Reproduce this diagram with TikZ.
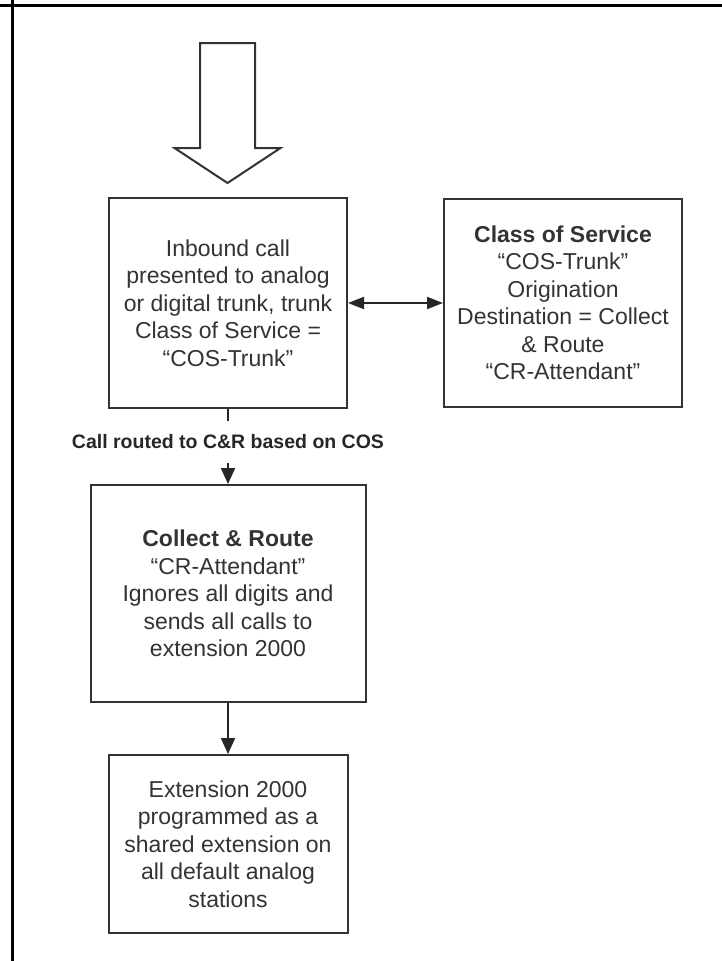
\documentclass[tikz,border=0pt]{standalone}
\usepackage{fontspec}
\setmainfont{Liberation Sans}
\usetikzlibrary{arrows.meta}
\begin{document}
\begin{tikzpicture}[x=1pt,y=1pt,
  box/.style={draw=black!80, line width=2pt, align=center, inner sep=0pt, text=black!80, font=\fontsize{23}{27.5}\selectfont},
  conn/.style={line width=2pt, draw=black!85},
  tip/.style={-{Triangle[length=16pt,width=14pt]}},
  dtip/.style={{Triangle[length=16pt,width=12pt]}-{Triangle[length=16pt,width=12pt]}},
  lbl/.style={font=\fontsize{19.5}{22}\bfseries, text=black!85, inner sep=0pt, minimum height=42pt}]
\useasboundingbox (0,0) rectangle (722,-961);
\fill[white] (0,0) rectangle (722,-961);
% frame
\draw[line width=3pt] (0,-5) -- (722,-5);
\draw[line width=3pt] (12,0) -- (12,-961);
% hollow inbound arrow
\draw[line width=2pt, draw=black!80, line join=miter, fill=white]
  (200,-43) -- (255,-43) -- (255,-148) -- (280.5,-148) -- (227.5,-183)
  -- (174.5,-148) -- (200,-148) -- cycle;
% boxes
\node[box, minimum width=238pt, minimum height=210pt] (b1) at (228,-303)
  {Inbound call\\presented to analog\\or digital trunk, trunk\\Class of Service =\\“COS-Trunk”};
\node[box, minimum width=238pt, minimum height=208pt] (b2) at (563,-303)
  {\textbf{Class of Service}\\“COS-Trunk”\\Origination\\Destination = Collect\\\& Route\\“CR-Attendant”};
\node[box, minimum width=275pt, minimum height=217pt] (b3) at (228,-593.5)
  {\textbf{Collect \& Route}\\“CR-Attendant”\\Ignores all digits and\\sends all calls to\\extension 2000};
\node[box, minimum width=239pt, minimum height=178pt] (b4) at (228,-844)
  {Extension 2000\\programmed as a\\shared extension on\\all default analog\\stations};
% label
\node[lbl] (lab) at (228,-442) {Call routed to C\&R based on COS};
% connectors
\draw[conn, dtip] (b1.east) -- (b2.west);
\draw[conn] (b1.south) -- (lab.north);
\draw[conn, tip] (lab.south) -- (b3.north);
\draw[conn, tip] (b3.south) -- (b4.north);
\end{tikzpicture}
\end{document}
